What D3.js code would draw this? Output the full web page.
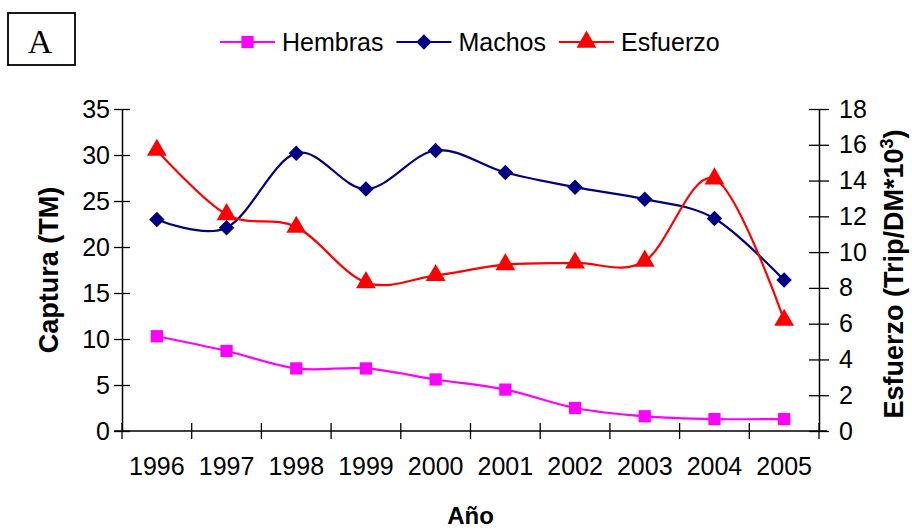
<!DOCTYPE html>
<html>
<head>
<meta charset="utf-8">
<script src="https://cdn.jsdelivr.net/npm/d3@7"></script>
<style>
  body { margin: 0; background: #fff; }
  svg { display: block; font-family: "Liberation Sans", Arial, sans-serif; }
</style>
</head>
<body>
<script>
// data
const years = ["1996", "1997", "1998", "1999", "2000", "2001", "2002", "2003", "2004", "2005"];
const hembras = [10.3, 8.7, 6.8, 6.8, 5.6, 4.5, 2.5, 1.6, 1.3, 1.3];
const machos = [23.0, 22.1, 30.2, 26.3, 30.5, 28.1, 26.5, 25.2, 23.1, 16.4];
const esfuerzo = [15.7, 12.1, 11.4, 8.3, 8.7, 9.3, 9.4, 9.5, 14.1, 6.2];
const leftTicks = [0, 5, 10, 15, 20, 25, 30, 35];
const rightTicks = [0, 2, 4, 6, 8, 10, 12, 14, 16, 18];

const width = 912, height = 531;
const margin = {top: 109, right: 93, bottom: 100, left: 122};

const svg = d3.select("body").append("svg")
    .attr("width", width)
    .attr("height", height);

const x = d3.scaleBand()
    .domain(years)
    .range([margin.left, width - margin.right]);

const yLeft = d3.scaleLinear()
    .domain([0, 35])
    .range([height - margin.bottom, margin.top]);

const yRight = d3.scaleLinear()
    .domain([0, 18])
    .range([height - margin.bottom, margin.top]);

const series = [
    {name: "Hembras", values: hembras, color: "#FF00FF", scale: yLeft, symbol: d3.symbolSquare, size: 150, rot: 0},
    {name: "Machos", values: machos, color: "#000080", scale: yLeft, symbol: d3.symbolSquare, size: 120, rot: 45},
    {name: "Esfuerzo", values: esfuerzo, color: "#FF0000", scale: yRight, symbol: d3.symbolTriangle, size: 170, rot: 0}
];

// axes
const tickStyle = g => {
    g.select(".domain").attr("stroke", "#000").attr("stroke-width", 1.5);
    g.selectAll(".tick line").attr("stroke", "#000").attr("stroke-width", 1.3);
    g.selectAll(".tick text").attr("fill", "#000").style("font-size", "25px")
        .style("font-family", "'Liberation Sans', Arial, sans-serif");
};

const xAxis = svg.append("g")
    .attr("transform", `translate(0,${height - margin.bottom})`)
    .call(d3.axisBottom(x).tickSize(0).tickPadding(26))
    .call(tickStyle);
xAxis.select(".domain").remove();
svg.append("line")
    .attr("x1", margin.left - 8).attr("x2", width - margin.right + 8)
    .attr("y1", height - margin.bottom).attr("y2", height - margin.bottom)
    .attr("stroke", "#000").attr("stroke-width", 1.5);
// category boundary ticks
svg.append("g")
    .selectAll("line")
    .data(years.concat(["end"]))
    .join("line")
    .attr("x1", (d, i) => i < years.length ? x(d) : x.range()[1])
    .attr("x2", (d, i) => i < years.length ? x(d) : x.range()[1])
    .attr("y1", height - margin.bottom - 8)
    .attr("y2", height - margin.bottom + 8)
    .attr("stroke", "#000").attr("stroke-width", 1.3);

svg.append("g")
    .attr("transform", `translate(${margin.left},0)`)
    .call(d3.axisLeft(yLeft).tickValues(leftTicks).tickSize(8).tickPadding(4).tickSizeOuter(0))
    .call(tickStyle)
    .call(g => g.selectAll(".tick line").attr("x2", 8).attr("x1", -8));

svg.append("g")
    .attr("transform", `translate(${width - margin.right},0)`)
    .call(d3.axisRight(yRight).tickValues(rightTicks).tickSize(8).tickPadding(12).tickSizeOuter(0))
    .call(tickStyle)
    .call(g => g.selectAll(".tick line").attr("x1", -10).attr("x2", 10));

// lines
const cx = d => x(d) + x.bandwidth() / 2;
series.forEach(s => {
    const line = d3.line()
        .x((d, i) => cx(years[i]))
        .y(d => s.scale(d))
        .curve(d3.curveCardinal.tension(0));
    svg.append("path")
        .datum(s.values)
        .attr("fill", "none")
        .attr("stroke", s.color)
        .attr("stroke-width", 2.2)
        .attr("d", line);
    svg.append("g")
        .selectAll("path")
        .data(s.values)
        .join("path")
        .attr("transform", (d, i) => `translate(${cx(years[i])},${s.scale(d)}) rotate(${s.rot})`)
        .attr("d", d3.symbol(s.symbol, s.size))
        .attr("fill", s.color);
});

// axis titles
svg.append("text")
    .attr("transform", `translate(58,${(margin.top + height - margin.bottom) / 2}) rotate(-90)`)
    .attr("text-anchor", "middle")
    .attr("font-weight", "bold")
    .attr("font-size", 27)
    .text("Captura (TM)");

const rt = svg.append("text")
    .attr("transform", `translate(903,${(margin.top + height - margin.bottom) / 2 + 4}) rotate(-90)`)
    .attr("text-anchor", "middle")
    .attr("font-weight", "bold")
    .attr("font-size", 27);
rt.append("tspan").text("Esfuerzo (Trip/DM*10");
rt.append("tspan").attr("baseline-shift", "super").attr("font-size", 18).text("3");
rt.append("tspan").text(")");

svg.append("text")
    .attr("x", (margin.left + width - margin.right) / 2)
    .attr("y", 524)
    .attr("text-anchor", "middle")
    .attr("font-weight", "bold")
    .attr("font-size", 24)
    .text("Año");

// panel label box
svg.append("rect")
    .attr("x", 8).attr("y", 13)
    .attr("width", 67).attr("height", 52)
    .attr("fill", "none").attr("stroke", "#000").attr("stroke-width", 1.8);
svg.append("text")
    .attr("x", 40).attr("y", 53)
    .attr("text-anchor", "middle")
    .attr("font-family", "'Liberation Serif', 'Times New Roman', serif")
    .attr("font-size", 34)
    .text("A");

// legend
const legend = svg.append("g").attr("transform", "translate(220,42)");
let lx = 0;
series.forEach(s => {
    const g = legend.append("g").attr("transform", `translate(${lx},0)`);
    g.append("line").attr("x1", 0).attr("x2", 55)
        .attr("stroke", s.color).attr("stroke-width", 2.2);
    g.append("path")
        .attr("transform", `translate(27.5,0) rotate(${s.rot})`)
        .attr("d", d3.symbol(s.symbol, s.size))
        .attr("fill", s.color);
    const t = g.append("text")
        .attr("x", 62).attr("y", 9)
        .attr("font-size", 25)
        .text(s.name);
    lx += 62 + t.node().getComputedTextLength() + 13;
});
</script>
</body>
</html>
